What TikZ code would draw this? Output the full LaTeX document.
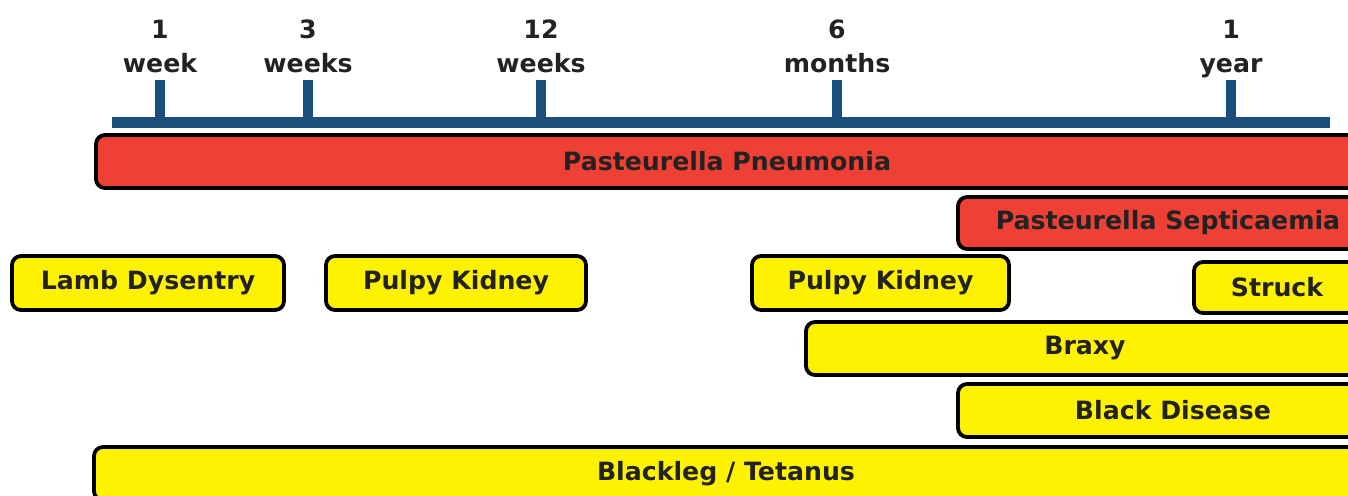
\documentclass[tikz,border=0pt]{standalone}
\usepackage{fontspec}
\setmainfont{DejaVu Sans}
\usetikzlibrary{positioning}
\usepackage{xcolor}
\definecolor{axisblue}{HTML}{1A4F7C}
\definecolor{barred}{HTML}{EE4034}
\definecolor{baryellow}{HTML}{FFF200}
\definecolor{txtgray}{HTML}{222222}
\newdimen\px \px=0.5pt
\begin{document}
\begin{tikzpicture}[x=0.5pt, y=-0.5pt,
    bar/.style={draw=black, line width=2\px*1.9, rounded corners=9\px, minimum height=53\px,
      inner sep=0pt, text=txtgray, font=\bfseries\fontsize{12.6}{15}\selectfont},
    redbar/.style={bar, fill=barred},
    yelbar/.style={bar, fill=baryellow},
    ticklbl/.style={anchor=base, inner sep=0pt, text=txtgray, font=\bfseries\fontsize{12.6}{15}\selectfont}]
  \useasboundingbox (0,0) rectangle (1348,495);
  \clip (0,0) rectangle (1348,495);
  % time axis
  \fill[axisblue] (112,117) rectangle (1330,128);
  \foreach \x/\n/\u [count=\i] in {160/1/week, 308/3/weeks, 541/12/weeks, 837/6/months, 1231/1/year} {
    \fill[axisblue] (\x-5,80) rectangle (\x+5,118);
    \node[ticklbl] (n\i) at (\x,38) {\n};
    \node[ticklbl] (u\i) at (\x,72) {\u};
  }
  % bars
  \node[redbar, minimum width=1262\px] (pneu) at (727,161.5) {Pasteurella Pneumonia};
  \node[redbar, minimum width=420\px, minimum height=52\px] (sept) at (1168,223) {Pasteurella Septicaemia};
  \node[yelbar, minimum width=272\px, minimum height=54\px] (lamb) at (148,283) {Lamb Dysentry};
  \node[yelbar, minimum width=260\px, minimum height=54\px] (pulpyA) at (456,283) {Pulpy Kidney};
  \node[yelbar, minimum width=257\px, minimum height=54\px] (pulpyB) at (880.5,283) {Pulpy Kidney};
  \node[yelbar, minimum width=166\px, minimum height=51\px] (struck) at (1277,287.5) {Struck};
  \node[yelbar, minimum width=558\px] (braxy) at (1085,348.5) {Braxy};
  \node[yelbar, minimum width=430\px] (black) at (1173,410.5) {Black Disease};
  \node[yelbar, minimum width=1264\px] (leg) at (726,473.5) {Blackleg / Tetanus};
\end{tikzpicture}
\end{document}
